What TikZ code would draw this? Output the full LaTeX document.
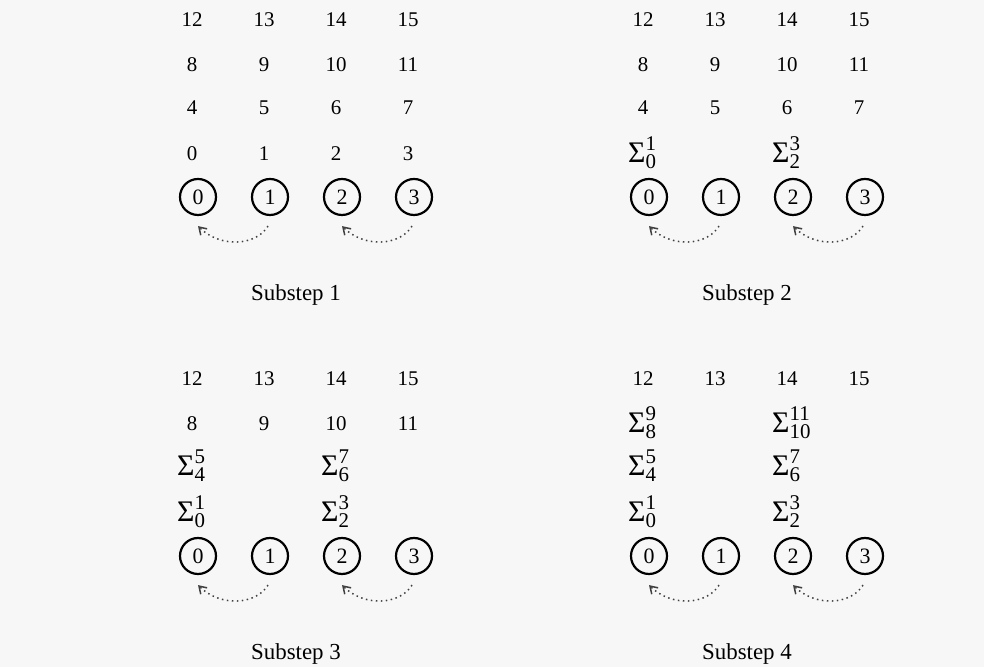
\documentclass[tikz,border=0pt]{standalone}
\usepackage{amsmath}
\usepackage{fontspec}
\setmainfont{Liberation Serif}
\usetikzlibrary{arrows.meta,calc}
\definecolor{bgc}{HTML}{F7F7F7}
\begin{document}
\begin{tikzpicture}[x=1bp,y=1bp,
  num/.style={font=\fontsize{21}{25}\selectfont, inner sep=0pt},
  sig/.style={font=\fontsize{30}{34}\selectfont, anchor=west, inner sep=0pt},
  proc/.style={circle, draw, line width=2.2bp, minimum size=36bp, inner sep=0pt, font=\fontsize{22}{26}\selectfont},
  lbl/.style={font=\fontsize{23}{27}\selectfont, inner sep=0pt},
  comm/.style={draw=black!75, line width=1.5bp, dash pattern=on 1.5bp off 3.5bp,
    -{Straight Barb[length=7bp,width=9bp]}}]
\useasboundingbox (0,0) rectangle (984,667);
\fill[bgc] (0,0) rectangle (984,667);
\newcommand\mypanel[5]{%
  \foreach \r/\ry in {0/43,1/89,2/132,3/177}{
    \foreach \c in {0,1,2,3}{
      \pgfmathtruncatemacro\v{4*\r+\c}
      \ifnum\r<#4\relax
        \ifodd\c\else
          \pgfmathtruncatemacro\w{\v+1}
          \node[sig] (#1s\r-\c) at (#2+72*\c-21,#3+\ry+1) {$\text{Σ}^{\text{\w}}_{\text{\v}}$};
        \fi
      \else
        \node[num] (#1n\r-\c) at (#2+72*\c-6,#3+\ry) {\v};
      \fi
    }
  }
  \foreach \c in {0,1,2,3}{
    \node[proc] (#1c\c) at (#2+72*\c,#3) {\c};
  }
  \draw[comm] ([xshift=-2bp,yshift=-10bp]#1c1.south) .. controls +(-12,-20) and +(22,-22) .. ([yshift=-10bp]#1c0.south);
  \draw[comm] ([xshift=-2bp,yshift=-10bp]#1c3.south) .. controls +(-12,-20) and +(22,-22) .. ([yshift=-10bp]#1c2.south);
  \node[lbl] (#1lab) at (#2+98,#3-98) {Substep #5};
}
\mypanel{a}{198}{470}{0}{1}
\mypanel{b}{649}{470}{1}{2}
\mypanel{c}{198}{111}{2}{3}
\mypanel{d}{649}{111}{3}{4}
\end{tikzpicture}
\end{document}
